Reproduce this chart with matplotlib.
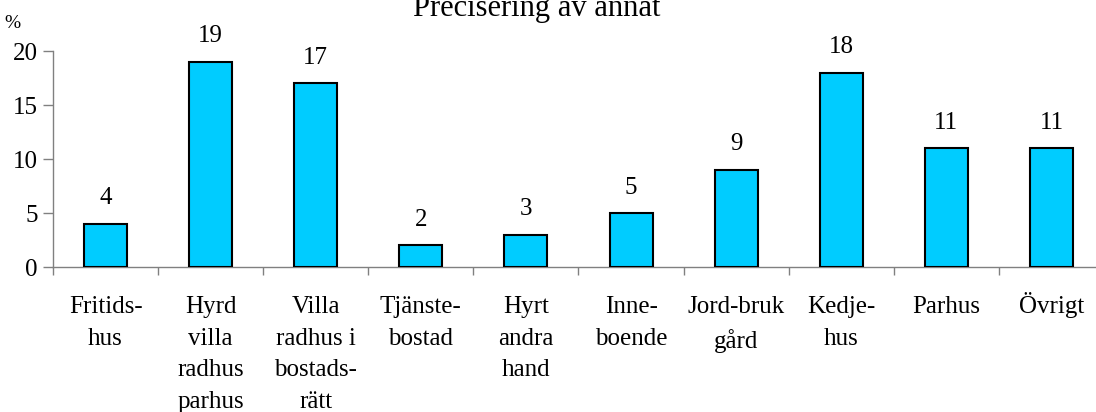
import matplotlib
matplotlib.use("Agg")
import matplotlib.pyplot as plt
import matplotlib.transforms as mtransforms
import numpy as np

# data
kategorier = ["Fritids-\nhus", "Hyrd\nvilla\nradhus\nparhus", "Villa\nradhus i\nbostads-\nrätt",
              "Tjänste-\nbostad", "Hyrt\nandra\nhand", "Inne-\nboende", "Jord-bruk\ngård",
              "Kedje-\nhus", "Parhus", "Övrigt"]
procent = [4, 19, 17, 2, 3, 5, 9, 18, 11, 11]
y_ticks = [0, 5, 10, 15, 20]

plt.rcParams['font.family'] = ['Liberation Serif', 'DejaVu Serif']

fig = plt.figure(figsize=(10.96, 4.12), dpi=100)
# axes runs a bit past the right edge, as in the original
ax = fig.add_axes([53 / 1096, (412 - 267) / 412, 1051 / 1096, 216 / 412])

x = np.arange(len(procent))
ax.bar(x, procent, width=0.41, color='#00CCFF', edgecolor='black', linewidth=1.5, zorder=3)

for xi, v in zip(x, procent):
    ax.annotate(str(v), (xi, v), xytext=(0, 14), textcoords='offset points',
                ha='center', va='baseline', fontsize=18)

ax.set_xlim(-0.5, len(procent) - 0.5)
ax.set_ylim(0, 20)
ax.set_yticks(y_ticks)
ax.tick_params(axis='y', labelsize=18, length=7, width=1, color='#808080', pad=4)

# category labels at centres, tick marks at the boundaries
ax.set_xticks(x)
ax.set_xticklabels(kategorier, fontsize=18, linespacing=1.56)
ax.tick_params(axis='x', length=0, pad=21)
ax.set_xticks(np.arange(len(procent) + 1) - 0.5, minor=True)
ax.tick_params(axis='x', which='minor', length=6, width=1, color='#808080')

# the umlaut makes "Övrigt" sit lower than the rest, lift it back in line
for lbl in ax.get_xticklabels():
    if lbl.get_text().startswith('Ö'):
        lbl.set_transform(lbl.get_transform() + mtransforms.ScaledTranslation(0, 3 / 72, fig.dpi_scale_trans))

for side in ['top', 'right']:
    ax.spines[side].set_visible(False)
for side in ['left', 'bottom']:
    ax.spines[side].set_color('#808080')
    ax.spines[side].set_linewidth(1)

fig.text(12 / 1096, (412 - 28) / 412, "%", ha='center', va='baseline', fontsize=14)
fig.text(537 / 1096, (412 - 16) / 412, "Precisering av annat", ha='center', va='baseline', fontsize=22)

fig.savefig("out.png", dpi=100)
